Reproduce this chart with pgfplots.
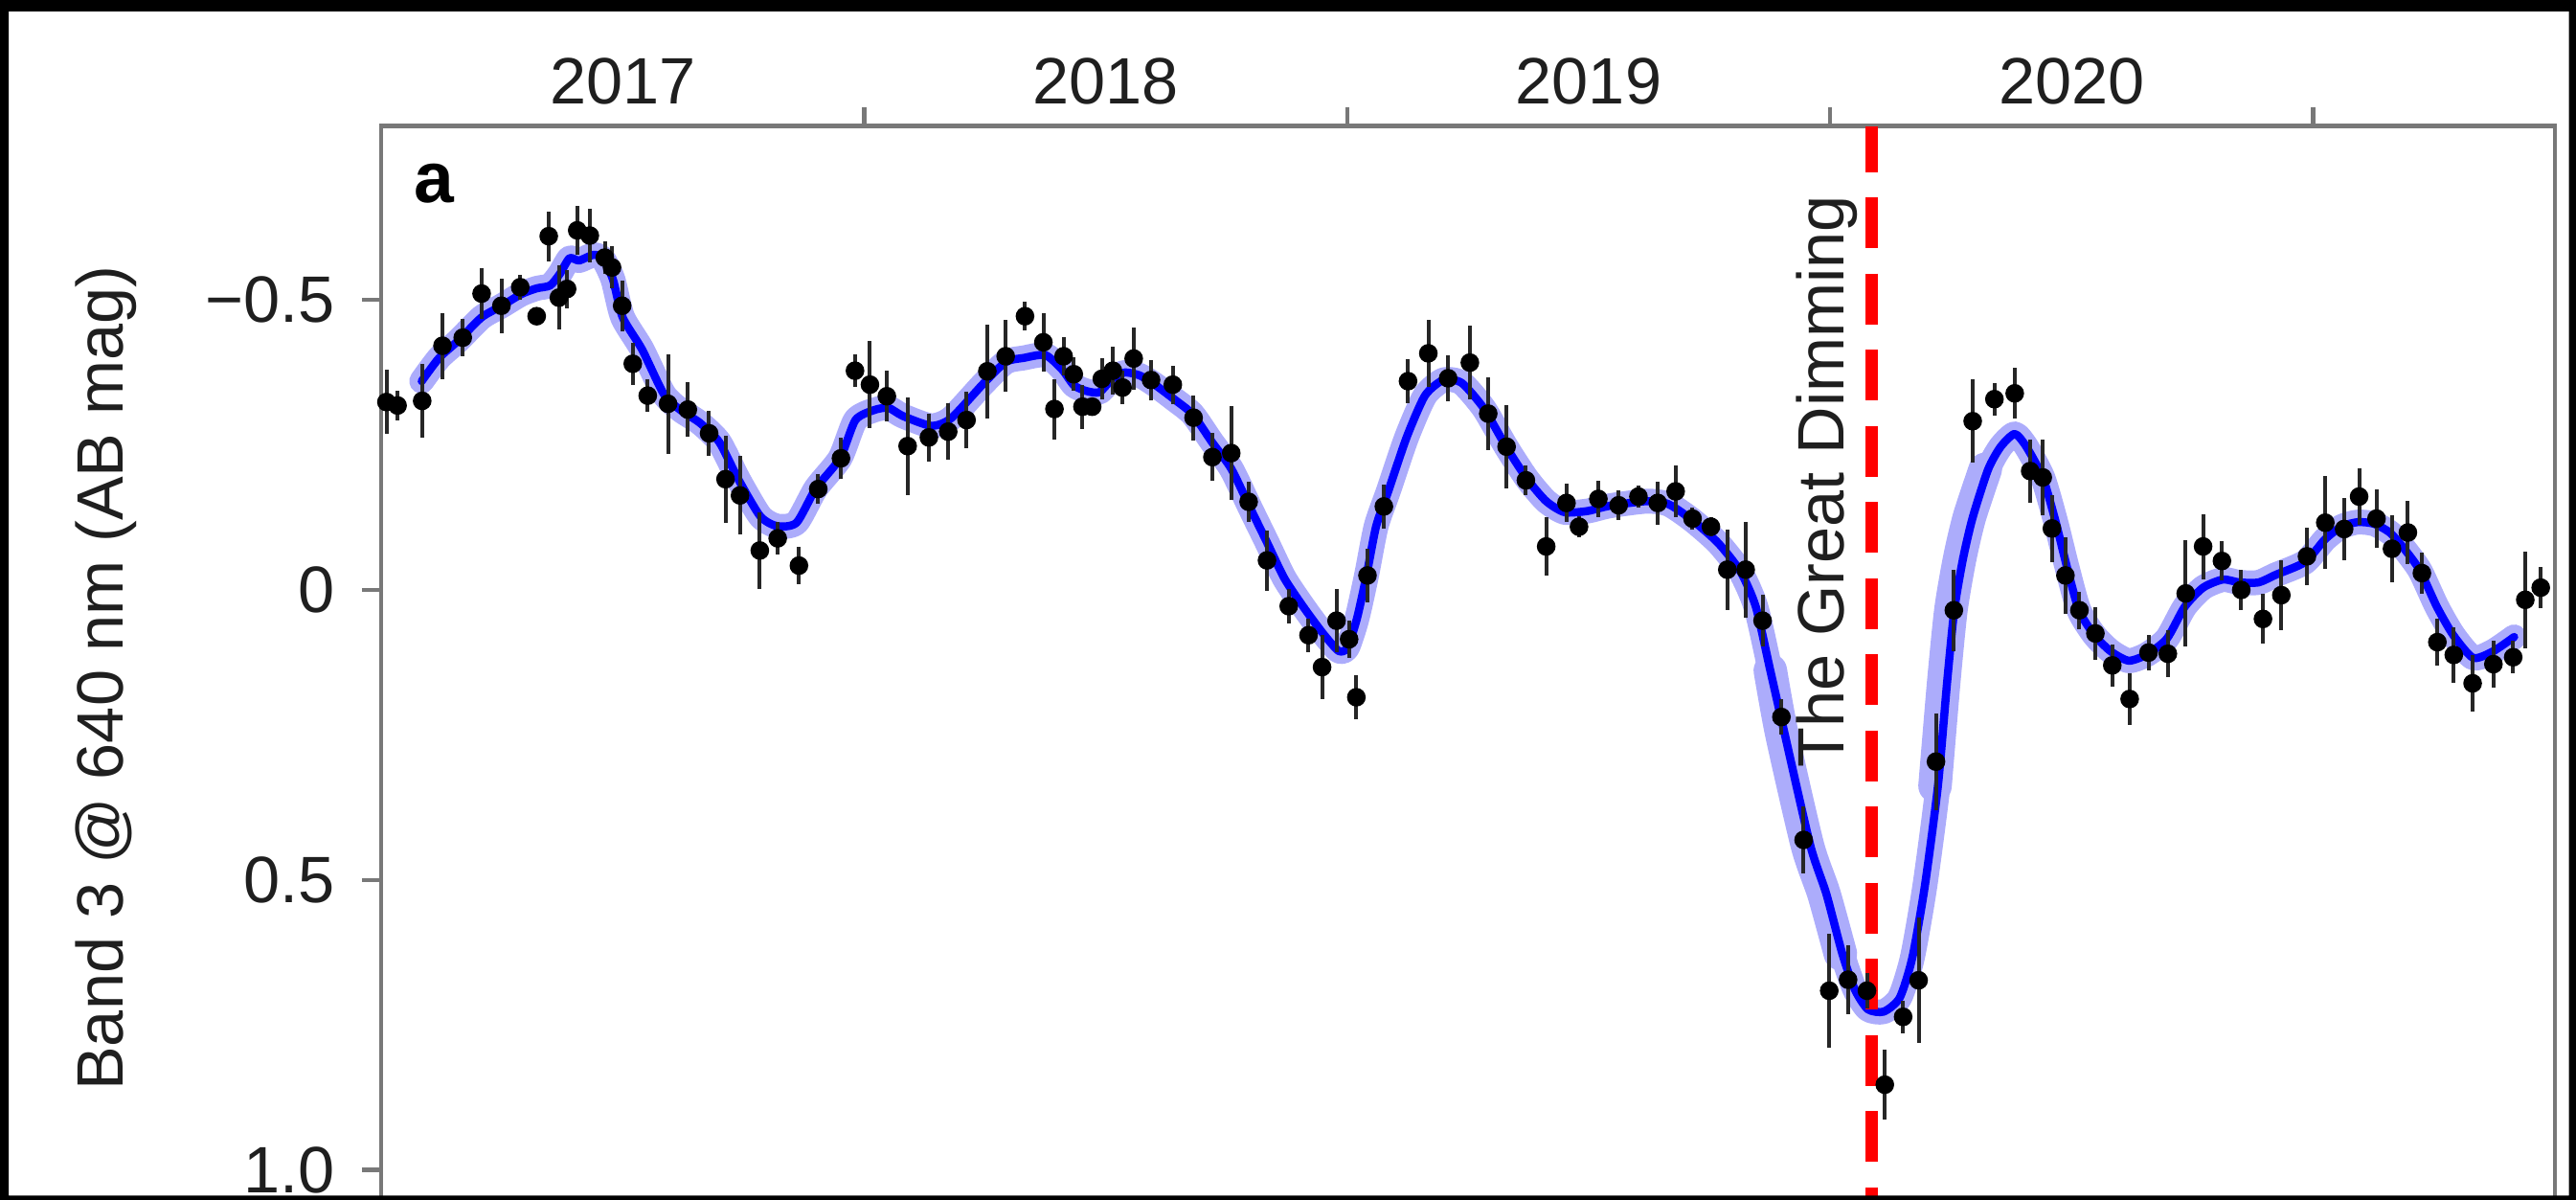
\documentclass[border=0pt]{standalone}
\usepackage{pgfplots}
\pgfplotsset{compat=1.18}
\usepackage{pgfplotstable}
\usepackage{fontspec}
\setmainfont{Liberation Sans}
\definecolor{bandblue}{RGB}{172,172,251}
\definecolor{fitblue}{RGB}{0,0,255}
\definecolor{dimred}{RGB}{255,0,0}
\definecolor{axgray}{RGB}{120,120,120}

\pgfplotstableread{
x y e
2017.011 -0.324 0.055
2017.034 -0.318 0.025
2017.085 -0.326 0.064
2017.127 -0.421 0.057
2017.169 -0.435 0.032
2017.208 -0.511 0.044
2017.249 -0.490 0.047
2017.288 -0.522 0.022
2017.322 -0.472 0.015
2017.347 -0.610 0.043
2017.368 -0.504 0.055
2017.385 -0.519 0.033
2017.406 -0.620 0.042
2017.432 -0.611 0.047
2017.463 -0.573 0.028
2017.478 -0.556 0.036
2017.499 -0.490 0.044
2017.521 -0.390 0.036
2017.552 -0.335 0.028
2017.594 -0.321 0.086
2017.635 -0.311 0.047
2017.679 -0.270 0.039
2017.713 -0.191 0.075
2017.743 -0.163 0.068
2017.784 -0.068 0.066
2017.821 -0.089 0.028
2017.865 -0.042 0.032
2017.905 -0.174 0.025
2017.952 -0.227 0.036
2017.981 -0.378 0.028
2018.012 -0.354 0.075
2018.047 -0.334 0.044
2018.090 -0.248 0.084
2018.134 -0.263 0.041
2018.174 -0.273 0.049
2018.212 -0.293 0.049
2018.255 -0.377 0.081
2018.293 -0.403 0.062
2018.333 -0.472 0.025
2018.371 -0.427 0.051
2018.394 -0.312 0.052
2018.413 -0.403 0.033
2018.434 -0.372 0.029
2018.452 -0.316 0.038
2018.472 -0.316 0.015
2018.492 -0.364 0.036
2018.515 -0.378 0.041
2018.535 -0.349 0.029
2018.558 -0.399 0.054
2018.594 -0.362 0.035
2018.639 -0.354 0.033
2018.682 -0.297 0.039
2018.721 -0.229 0.041
2018.760 -0.236 0.081
2018.796 -0.152 0.035
2018.834 -0.051 0.052
2018.879 0.028 0.029
2018.920 0.078 0.029
2018.948 0.133 0.055
2018.978 0.053 0.055
2019.004 0.085 0.033
2019.019 0.185 0.038
2019.042 -0.025 0.046
2019.076 -0.144 0.038
2019.126 -0.360 0.038
2019.168 -0.408 0.058
2019.209 -0.365 0.039
2019.254 -0.392 0.063
2019.292 -0.304 0.063
2019.330 -0.247 0.072
2019.370 -0.189 0.025
2019.412 -0.075 0.050
2019.454 -0.150 0.033
2019.480 -0.109 0.018
2019.520 -0.157 0.032
2019.562 -0.146 0.025
2019.603 -0.161 0.019
2019.643 -0.150 0.037
2019.680 -0.170 0.044
2019.715 -0.123 0.019
2019.753 -0.109 0.017
2019.787 -0.035 0.069
2019.825 -0.035 0.083
2019.860 0.053 0.044
2019.899 0.219 0.030
2019.945 0.431 0.058
2019.998 0.691 0.098
2020.037 0.672 0.060
2020.076 0.691 0.031
2020.113 0.853 0.060
2020.151 0.736 0.028
2020.183 0.673 0.108
2020.219 0.296 0.083
2020.256 0.035 0.070
2020.295 -0.291 0.072
2020.340 -0.329 0.028
2020.382 -0.339 0.044
2020.414 -0.205 0.055
2020.440 -0.194 0.065
2020.459 -0.106 0.058
2020.487 -0.025 0.066
2020.516 0.035 0.032
2020.549 0.075 0.045
2020.584 0.130 0.036
2020.620 0.188 0.045
2020.659 0.108 0.030
2020.699 0.110 0.040
2020.736 0.006 0.092
2020.772 -0.075 0.056
2020.811 -0.050 0.034
2020.851 0.000 0.034
2020.896 0.050 0.043
2020.934 0.009 0.061
2020.987 -0.058 0.050
2021.025 -0.116 0.080
2021.064 -0.105 0.054
2021.095 -0.161 0.048
2021.131 -0.123 0.050
2021.163 -0.071 0.058
2021.196 -0.099 0.055
2021.225 -0.029 0.036
2021.257 0.090 0.040
2021.291 0.112 0.048
2021.330 0.161 0.048
2021.373 0.128 0.041
2021.414 0.116 0.028
2021.439 0.017 0.083
2021.471 -0.004 0.036
}\obs

\pgfplotstableread{
x y
2017.084 -0.360
2017.120 -0.400
2017.160 -0.430
2017.208 -0.470
2017.250 -0.490
2017.290 -0.510
2017.322 -0.520
2017.350 -0.525
2017.370 -0.545
2017.390 -0.572
2017.410 -0.568
2017.440 -0.578
2017.460 -0.570
2017.480 -0.535
2017.500 -0.470
2017.540 -0.415
2017.585 -0.338
2017.620 -0.310
2017.660 -0.288
2017.700 -0.255
2017.740 -0.190
2017.785 -0.127
2017.820 -0.110
2017.860 -0.116
2017.900 -0.175
2017.950 -0.227
2017.982 -0.293
2018.020 -0.310
2018.050 -0.314
2018.080 -0.300
2018.139 -0.283
2018.180 -0.296
2018.246 -0.355
2018.293 -0.393
2018.330 -0.400
2018.375 -0.405
2018.410 -0.380
2018.434 -0.353
2018.460 -0.343
2018.487 -0.341
2018.515 -0.365
2018.540 -0.375
2018.570 -0.370
2018.600 -0.355
2018.640 -0.330
2018.680 -0.303
2018.720 -0.255
2018.760 -0.209
2018.800 -0.140
2018.834 -0.082
2018.870 -0.020
2018.910 0.030
2018.950 0.075
2018.982 0.105
2019.000 0.100
2019.020 0.050
2019.040 -0.025
2019.060 -0.110
2019.085 -0.170
2019.123 -0.263
2019.161 -0.335
2019.199 -0.362
2019.237 -0.357
2019.283 -0.313
2019.329 -0.247
2019.372 -0.192
2019.412 -0.153
2019.450 -0.134
2019.497 -0.136
2019.543 -0.145
2019.619 -0.153
2019.665 -0.148
2019.715 -0.120
2019.768 -0.081
2019.814 -0.032
2019.846 0.029
2019.876 0.139
2019.906 0.249
2019.959 0.441
2019.992 0.524
2020.025 0.627
2020.051 0.689
2020.078 0.723
2020.111 0.727
2020.144 0.703
2020.170 0.634
2020.196 0.510
2020.223 0.338
2020.242 0.159
2020.257 0.034
2020.275 -0.054
2020.295 -0.125
2020.327 -0.208
2020.353 -0.247
2020.382 -0.269
2020.406 -0.247
2020.440 -0.194
2020.466 -0.120
2020.490 -0.040
2020.515 0.035
2020.547 0.078
2020.581 0.106
2020.618 0.122
2020.656 0.111
2020.697 0.084
2020.734 0.029
2020.772 -0.004
2020.813 -0.018
2020.847 -0.013
2020.887 -0.013
2020.922 -0.026
2020.983 -0.048
2021.024 -0.087
2021.058 -0.109
2021.092 -0.117
2021.126 -0.114
2021.160 -0.098
2021.194 -0.065
2021.222 -0.032
2021.256 0.029
2021.290 0.078
2021.331 0.117
2021.372 0.106
2021.416 0.081
}\fit

\begin{document}
\begin{tikzpicture}
\begin{axis}[
  at={(79.6pt,0.22pt)}, anchor=south west,
  scale only axis,
  width=453.96pt, height=224.07pt,
  xmin=2017.0, xmax=2021.5,
  ymin=-0.8, ymax=1.05,
  y dir=reverse,
  axis line style={axgray, line width=0.9pt},
  tick style={axgray, line width=0.9pt},
  tick align=outside,
  major tick length=4pt,
  xtick pos=upper, xticklabel pos=upper,
  ytick pos=left,
  xtick={2018,2019,2020,2021},
  xticklabels={},
  extra x ticks={2017.5,2018.5,2019.5,2020.5},
  extra x tick labels={2017,2018,2019,2020},
  extra x tick style={major tick length=0pt},
  ytick={-0.5,0,0.5,1.0},
  yticklabels={−0.5,0,0.5,1.0},
  tick label style={font=\fontsize{13.7}{16}\selectfont, text=black!88},
  yticklabel style={xshift=-2.2pt},
  xticklabel style={yshift=1pt},
]
% uncertainty band of the fit
\addplot[draw=bandblue, line width=5.2pt, line join=round, line cap=round, smooth, tension=0.4] table[x=x,y=y] {\fit};
\addplot[draw=bandblue, line width=7pt, line join=round, line cap=round, smooth, tension=0.4] coordinates {
(2019.876,0.139) (2019.900,0.249) (2019.953,0.441) (2019.987,0.524) (2020.021,0.627)};
\addplot[draw=bandblue, line width=7pt, line join=round, line cap=round, smooth, tension=0.4] coordinates {
(2020.217,0.338) (2020.235,0.159) (2020.250,0.034) (2020.268,-0.054) (2020.288,-0.125) (2020.321,-0.208)};
% fit
\addplot[draw=fitblue, line width=1.7pt, line join=round, line cap=round, smooth, tension=0.4] table[x=x,y=y] {\fit};
% Great Dimming marker
\addplot[draw=dimred, line width=2.6pt, dash pattern=on 10.6pt off 5.3pt, dash phase=1pt] coordinates {(2020.086,-0.8) (2020.086,1.05)};
% observations
\addplot[only marks, mark=*, mark size=1.75pt, black,
  error bars/.cd, y dir=both, y explicit, error mark=none,
  error bar style={line width=0.8pt, black!85}]
  table[x=x, y=y, y error=e] {\obs};
\node[rotate=90, anchor=base, font=\fontsize{13.7}{16}\selectfont, text=black!88] at (axis cs:2020.029,-0.187) {The Great Dimming};
\end{axis}
\node[anchor=base west, inner sep=0pt, font=\fontsize{15}{18}\selectfont\bfseries] at (86.2pt,208.2pt) {a};
\node[rotate=90, anchor=base, inner sep=0pt, font=\fontsize{13.7}{16}\selectfont, text=black!88] at (25.6pt,109pt) {Band 3 @ 640 nm (AB mag)};
\fill[black, even odd rule] (0,0) rectangle (538pt,250.6pt) (1.8pt,0.9pt) rectangle (536.5pt,248.2pt);
\pgfresetboundingbox
\path[use as bounding box] (0,0) rectangle (538pt,250.6pt);
\end{tikzpicture}
\end{document}
